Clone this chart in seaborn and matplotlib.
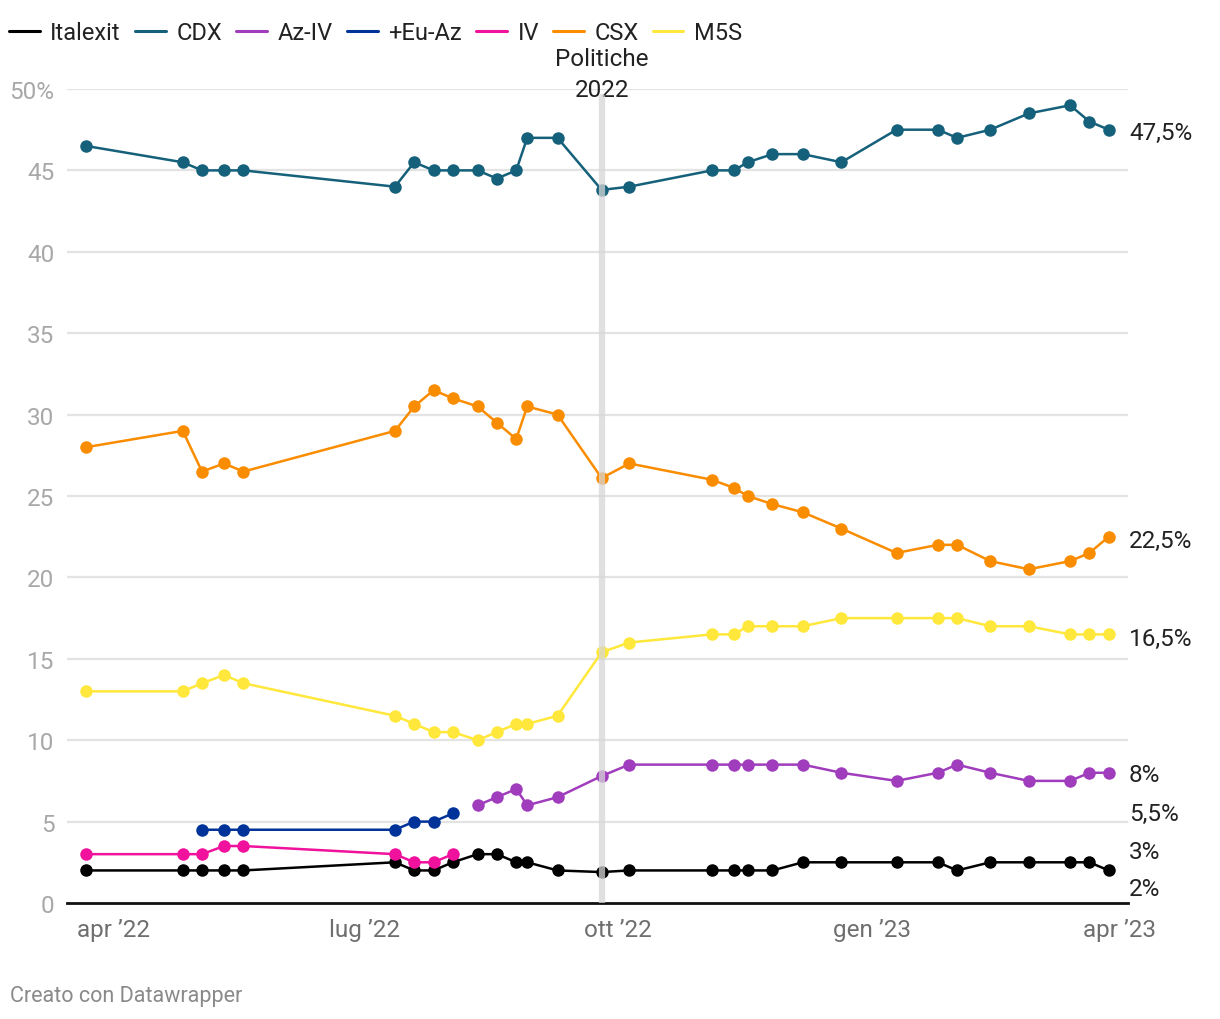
import pandas as pd
import seaborn as sns
import matplotlib.pyplot as plt
from matplotlib.lines import Line2D

dates = ["2022-03-22", "2022-04-26", "2022-05-03", "2022-05-11", "2022-05-18",
         "2022-07-12", "2022-07-19", "2022-07-26", "2022-08-02", "2022-08-11",
         "2022-08-18", "2022-08-25", "2022-08-29", "2022-09-09", "2022-09-25",
         "2022-10-05", "2022-11-04", "2022-11-12", "2022-11-17", "2022-11-26",
         "2022-12-07", "2022-12-21", "2023-01-10", "2023-01-25", "2023-02-01",
         "2023-02-13", "2023-02-27", "2023-03-14", "2023-03-21", "2023-03-28"]

italexit = [2, 2, 2, 2, 2, 2.5, 2, 2, 2.5, 3, 3, 2.5, 2.5, 2, 1.9,
            2, 2, 2, 2, 2, 2.5, 2.5, 2.5, 2.5, 2, 2.5, 2.5, 2.5, 2.5, 2]
cdx = [46.5, 45.5, 45, 45, 45, 44, 45.5, 45, 45, 45, 44.5, 45, 47, 47, 43.8,
       44, 45, 45, 45.5, 46, 46, 45.5, 47.5, 47.5, 47, 47.5, 48.5, 49, 48, 47.5]
az_iv = [None, None, None, None, None, None, None, None, None,
         6, 6.5, 7, 6, 6.5, 7.8,
         8.5, 8.5, 8.5, 8.5, 8.5, 8.5, 8, 7.5, 8, 8.5, 8, 7.5, 7.5, 8, 8]
eu_az = [None, None, 4.5, 4.5, 4.5, 4.5, 5, 5, 5.5] + [None] * 21
iv = [3, 3, 3, 3.5, 3.5, 3, 2.5, 2.5, 3] + [None] * 21
csx = [28, 29, 26.5, 27, 26.5, 29, 30.5, 31.5, 31, 30.5, 29.5, 28.5, 30.5, 30, 26.1,
       27, 26, 25.5, 25, 24.5, 24, 23, 21.5, 22, 22, 21, 20.5, 21, 21.5, 22.5]
m5s = [13, 13, 13.5, 14, 13.5, 11.5, 11, 10.5, 10.5, 10, 10.5, 11, 11, 11.5, 15.4,
       16, 16.5, 16.5, 17, 17, 17, 17.5, 17.5, 17.5, 17.5, 17, 17, 16.5, 16.5, 16.5]

parties = ["Italexit", "CDX", "Az-IV", "+Eu-Az", "IV", "CSX", "M5S"]
series = [italexit, cdx, az_iv, eu_az, iv, csx, m5s]
colors = ["#000000", "#15607a", "#a03dbd", "#003399", "#f0119c", "#fa8c00", "#ffe83b"]
end_labels = ["2%", "47,5%", "8%", "5,5%", "3%", "22,5%", "16,5%"]
label_shift = [-18, -3, -2, 0, 3, -4, -4]  # pixels, to keep labels apart

rows = []
for party, vals in zip(parties, series):
    for d, v in zip(dates, vals):
        if v is not None:
            rows.append({"date": pd.Timestamp(d), "value": v, "party": party})
df = pd.DataFrame(rows)

sns.set_theme(style="white")
plt.rcParams["font.family"] = ["Roboto", "DejaVu Sans"]
FS = 17.5

fig = plt.figure(figsize=(12.2, 10.2), dpi=100)
ax = fig.add_axes([67 / 1220, 1 - 904 / 1020, (1128 - 67) / 1220, (904 - 90) / 1020])

for y in range(5, 55, 5):
    ax.axhline(y, color="#e3e3e3", lw=1.6, zorder=0)

sns.lineplot(data=df, x="date", y="value", hue="party", hue_order=parties,
             palette=dict(zip(parties, colors)), marker="o", markersize=9,
             markeredgewidth=0, linewidth=1.8, legend=False, ax=ax, zorder=3)

election = pd.Timestamp("2022-09-25")
ax.axvline(election, ymax=0.99, color="#d6d6d6", lw=4.5, alpha=0.75, zorder=6)
ax.annotate("Politiche\n2022", xy=(election, 1.0), xycoords=("data", "axes fraction"),
            xytext=(0, -12), textcoords="offset pixels", ha="center", va="bottom",
            fontsize=FS, color="#222222", linespacing=1.42)

ax.set_xlim(pd.Timestamp("2022-03-15"), pd.Timestamp("2023-04-04"))
ax.set_ylim(0, 50)

ax.set_yticks(range(0, 55, 5))
ax.set_yticklabels([str(y) if y < 50 else "50%" for y in range(0, 55, 5)])
ax.tick_params(axis="y", length=0, pad=9, labelsize=FS, labelcolor="#a8a8a8")

xticks = ["2022-04-01", "2022-07-01", "2022-10-01", "2023-01-01", "2023-04-01"]
xlabels = ["apr \u201922", "lug \u201922", "ott \u201922", "gen \u201923", "apr \u201923"]
ax.set_xticks([pd.Timestamp(t) for t in xticks])
ax.set_xticklabels(xlabels)
ax.tick_params(axis="x", length=0, pad=11, labelsize=FS, labelcolor="#6f6f6f")
ax.set_xlabel("")
ax.set_ylabel("")

for s in ["top", "right", "left"]:
    ax.spines[s].set_visible(False)
ax.spines["bottom"].set_color("#111111")
ax.spines["bottom"].set_linewidth(2)

for party, vals, lab, dy in zip(parties, series, end_labels, label_shift):
    last = [v for v in vals if v is not None][-1]
    ax.annotate(lab, xy=(1.0, last), xycoords=("axes fraction", "data"),
                xytext=(1, dy), textcoords="offset pixels", ha="left", va="center",
                fontsize=FS, color="#222222", annotation_clip=False)

handles = [Line2D([0], [0], color=c, lw=2.2) for c in colors]
fig.legend(handles, parties, loc="upper left", bbox_to_anchor=(9 / 1220, 1 - 22 / 1020),
           ncol=7, frameon=False, fontsize=17, handlelength=1.3, handletextpad=0.45,
           columnspacing=0.6, borderpad=0, borderaxespad=0, labelcolor="#222222")

fig.text(10 / 1220, 1 - 997 / 1020, "Creato con Datawrapper", fontsize=15.5,
         color="#8a8a8a", ha="left", va="center")

fig.savefig("out.png", dpi=100, facecolor="white")
